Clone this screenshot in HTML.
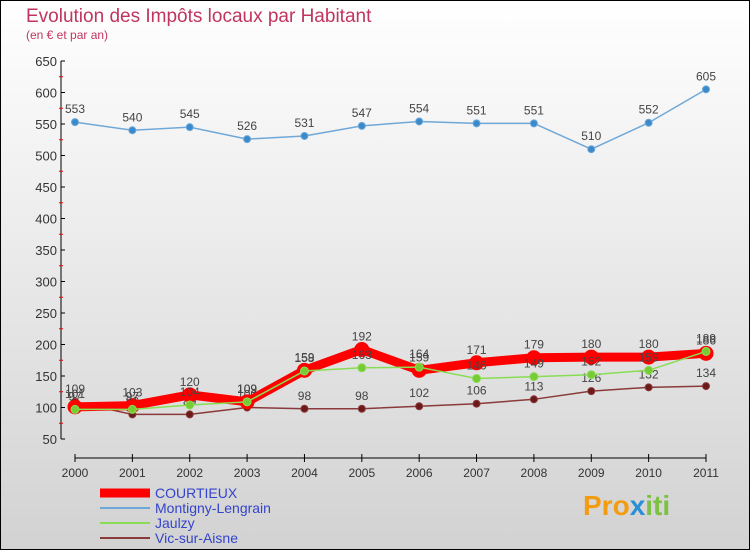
<!DOCTYPE html>
<html><head><meta charset="utf-8"><style>
body{margin:0;width:750px;height:550px;overflow:hidden;font-family:"Liberation Sans",sans-serif}
</style></head><body>
<svg id="chart" width="750" height="550" xmlns="http://www.w3.org/2000/svg">
<defs><linearGradient id="bg" x1="0" y1="0" x2="0" y2="1"><stop offset="0" stop-color="#ffffff"/><stop offset="1" stop-color="#d2d2d2"/></linearGradient></defs>
<rect x="0.5" y="0.5" width="749" height="549" fill="url(#bg)" stroke="#000"/>
<text x="26" y="22" font-size="19" fill="#c0355f">Evolution des Impôts locaux par Habitant</text>
<text x="26" y="39" font-size="12" fill="#c0355f">(en € et par an)</text>
<g id="axes"></g><g id="series"></g><g id="legend"></g>
<text x="583" y="515" font-size="28" font-weight="bold" fill="#f39c12">Pro<tspan fill="#2b8fd6">x</tspan><tspan fill="#7cc142">iti</tspan></text>
</svg>
<script>
const years=["2000","2001","2002","2003","2004","2005","2006","2007","2008","2009","2010","2011"];
const yTicks=[50,100,150,200,250,300,350,400,450,500,550,600,650];
const montigny=[553,540,545,526,531,547,554,551,551,510,552,605];
const courtieux=[101,103,120,109,159,192,159,171,179,180,180,186];
const jaulzy=[97,97,104,109,158,163,164,146,149,152,159,189];
const vic=[109,89,89,100,98,98,102,106,113,126,132,134];
const NS="http://www.w3.org/2000/svg";
const X=i=>75+i*(706-75)/11, Y=v=>439-(v-50)*(439-61)/600;
function mk(t,a,p){const e=document.createElementNS(NS,t);for(const k in a)e.setAttribute(k,a[k]);(p||document.getElementById('series')).appendChild(e);return e;}
const ax=document.getElementById('axes');
let e=mk('line',{x1:61,y1:61,x2:61,y2:439,stroke:'#000'},ax);

e=mk('line',{x1:75,y1:458,x2:706,y2:458,stroke:'#000'},ax);

yTicks.forEach((v,i)=>{mk('line',{x1:61,y1:Y(v),x2:65,y2:Y(v),stroke:'#000'},ax);
 if(i<yTicks.length-1)mk('line',{x1:59,y1:Y(v+25),x2:63,y2:Y(v+25),stroke:'#e00'},ax);
 const t=mk('text',{x:57,y:Y(v)+5,'font-size':13,fill:'#333','text-anchor':'end'},ax);t.textContent=v;
 });
years.forEach((y,i)=>{mk('line',{x1:X(i),y1:454,x2:X(i),y2:462,stroke:'#000'},ax);
 const t=mk('text',{x:X(i),y:477,'font-size':12,fill:'#333','text-anchor':'middle'},ax);t.textContent=y;
 });
function series(name,data,color,w,r,dot){
 const g=mk('g',{});
 mk('polyline',{points:data.map((v,i)=>X(i)+','+Y(v)).join(' '),fill:'none',stroke:color,'stroke-width':w,'stroke-linejoin':'round'},g);
 data.forEach((v,i)=>{const c=mk('circle',{cx:X(i),cy:Y(v),r:r,fill:dot,stroke:color,'stroke-width':1},g);
  
  const t=mk('text',{x:X(i),y:Y(v)-9,'font-size':12,fill:'#444','text-anchor':'middle'},g);t.textContent=v;});
}
series('montigny',montigny,'#6fa8d8',1.5,3.5,'#3a8acb');
series('vic',vic,'#8a3a3a',1.5,3.5,'#6b1a1a');
series('courtieux',courtieux,'#f00',9,7,'#f00');
series('jaulzy',jaulzy,'#88dd55',1.5,4,'#77cc33');
const lg=document.getElementById('legend');
[["COURTIEUX","#f00",9],["Montigny-Lengrain","#6fa8d8",2],["Jaulzy","#88dd55",2],["Vic-sur-Aisne","#8a3a3a",2]].forEach((l,i)=>{
 const y=493+i*15;
 const g=mk('g',{},lg);
 mk('line',{x1:100,y1:y,x2:150,y2:y,stroke:l[1],'stroke-width':l[2]},g);
 const t=mk('text',{x:155,y:y+5,'font-size':14,fill:'#3344cc'},g);t.textContent=l[0];});
</script>
</body></html>
